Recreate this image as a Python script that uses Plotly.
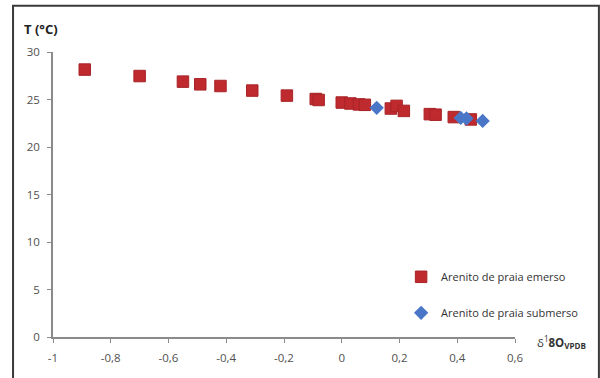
import plotly.graph_objects as go

# Data
emerso_x = [-0.89, -0.70, -0.55, -0.49, -0.42, -0.31, -0.19, -0.09, -0.08,
            0.00, 0.03, 0.06, 0.08, 0.17, 0.19, 0.215, 0.305, 0.325, 0.388, 0.447]
emerso_y = [28.15, 27.47, 26.88, 26.6, 26.42, 25.94, 25.41, 25.05, 24.95,
            24.68, 24.58, 24.48, 24.44, 24.05, 24.33, 23.8, 23.46, 23.4, 23.15, 22.9]
submerso_x = [0.121, 0.412, 0.432, 0.488]
submerso_y = [24.12, 23.06, 23.0, 22.75]

x_ticks = [-1, -0.8, -0.6, -0.4, -0.2, 0, 0.2, 0.4, 0.6]
x_ticktext = ["-1", "-0,8", "-0,6", "-0,4", "-0,2", "0", "0,2", "0,4", "0,6"]
y_ticks = [0, 5, 10, 15, 20, 25, 30]

FONT = "Open Sans"
W, H = 600, 378
L, R, T, B = 52.5, 85, 51.7, 41.3
PW, PH = W - L - R, H - T - B

def px(xp):
    return (xp - L) / PW

def py(yp):
    return (H - B - yp) / PH

fig = go.Figure()
fig.add_trace(go.Scatter(
    x=emerso_x, y=emerso_y, mode="markers", name="Arenito de praia emerso",
    legendgroup="a",
    marker=dict(symbol="square", size=11.5, color="#BE2A2E",
                line=dict(color="#A82428", width=1)),
))
fig.add_trace(go.Scatter(
    x=submerso_x, y=submerso_y, mode="markers", name="Arenito de praia submerso",
    legendgroup="b",
    marker=dict(symbol="diamond", size=11, color="#4A76C8",
                line=dict(color="#4A76C8", width=0)),
))

axis_common = dict(
    showgrid=False, zeroline=False, showline=True, linecolor="#8a8a8a",
    linewidth=1.5, ticks="outside", ticklen=4, tickcolor="#8a8a8a",
    tickwidth=1.2, tickfont=dict(family=FONT, size=11.5, color="#505050"),
)

fig.update_layout(
    width=W, height=H,
    margin=dict(l=L, r=R, t=T, b=B, pad=0),
    paper_bgcolor="white", plot_bgcolor="white",
    font=dict(family=FONT, size=11, color="#333333"),
    xaxis=dict(range=[-1, 0.6], tickvals=x_ticks, ticktext=x_ticktext,
               ticklabelstandoff=5, **axis_common),
    yaxis=dict(range=[0, 30], tickvals=y_ticks, ticklabelstandoff=5,
               **axis_common),
    showlegend=True,
    legend=dict(
        x=px(401), y=py(262), xanchor="left", yanchor="top",
        bgcolor="rgba(0,0,0,0)", borderwidth=0,
        font=dict(family=FONT, size=11, color="#333333"),
        traceorder="grouped", tracegroupgap=17, itemwidth=30,
    ),
    annotations=[
        dict(xref="paper", yref="paper", x=px(21), y=py(29),
             xanchor="left", yanchor="middle", showarrow=False,
             text="<b>T (°C)</b>",
             font=dict(family=FONT, size=13, color="#222222")),
        dict(xref="paper", yref="paper", x=px(535), y=py(342),
             xanchor="left", yanchor="middle", showarrow=False,
             text="δ<sup>1</sup><b>8O</b><sub><b>VPDB</b></sub>",
             font=dict(family=FONT, size=11.5, color="#333333")),
    ],
    shapes=[
        dict(type="rect", xref="paper", yref="paper",
             x0=px(12.5), x1=px(599), y0=py(382), y1=py(5.5),
             line=dict(color="#3a3a3a", width=2), fillcolor="rgba(0,0,0,0)",
             layer="below"),
    ],
)

fig.write_html("out.html")
